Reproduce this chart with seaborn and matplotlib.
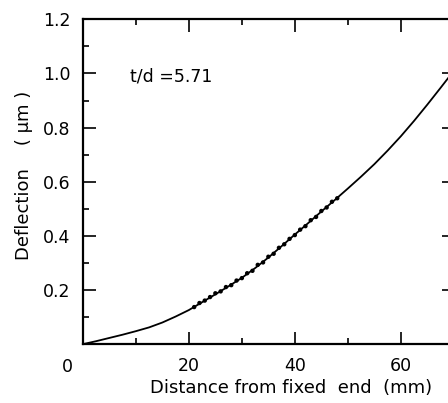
import numpy as np
import pandas as pd
import matplotlib.pyplot as plt
import seaborn as sns
from matplotlib.ticker import MultipleLocator

# fitted curve
curve_x = [0, 2.5, 5, 7.5, 10, 12.5, 15, 17.5, 20, 22.5, 25, 27.5, 30, 32.5,
           35, 37.5, 40, 42.5, 45, 47.5, 50, 52.5, 55, 57.5, 60, 62.5, 65, 67.5, 70]
curve_y = [0, 0.011, 0.023, 0.035, 0.048, 0.062, 0.080, 0.102, 0.126, 0.155,
           0.184, 0.214, 0.245, 0.281, 0.320, 0.362, 0.405, 0.447, 0.490, 0.532,
           0.575, 0.619, 0.665, 0.715, 0.768, 0.825, 0.885, 0.947, 1.010]

# measured points
meas_x = [21, 22, 23, 24, 25, 26, 27, 28, 29, 30, 31, 32, 33, 34,
          35, 36, 37, 38, 39, 40, 41, 42, 43, 44, 45, 46, 47, 48]
meas_y = [0.137, 0.152, 0.161, 0.174, 0.188, 0.195, 0.211, 0.218, 0.235, 0.244,
          0.262, 0.271, 0.293, 0.302, 0.323, 0.334, 0.356, 0.369, 0.389, 0.403,
          0.423, 0.436, 0.458, 0.470, 0.492, 0.505, 0.526, 0.539]

x_ticks = [20, 40, 60]
y_ticks = [0.2, 0.4, 0.6, 0.8, 1.0, 1.2]

sns.set_style("ticks")
plt.rcParams['font.family'] = ['DejaVu Sans']
plt.rcParams['text.color'] = 'black'
plt.rcParams['axes.labelcolor'] = 'black'

curve = pd.DataFrame({'x': curve_x, 'y': curve_y})
meas = pd.DataFrame({'x': meas_x, 'y': meas_y})

fig = plt.figure(figsize=(4.48, 4.03), dpi=100)
ax = fig.add_axes([0.185, 0.146, 0.828, 0.806])

sns.lineplot(data=curve, x='x', y='y', ax=ax, color='black', lw=1.3)
sns.scatterplot(data=meas, x='x', y='y', ax=ax, color='black', s=10,
                edgecolor='none', zorder=3)

ax.set_xlim(0, 70)
ax.set_ylim(0, 1.2)
ax.set_xticks(x_ticks)
ax.set_xticklabels([str(v) for v in x_ticks])
ax.set_yticks(y_ticks)
ax.set_yticklabels([f'{v:.1f}' for v in y_ticks])
ax.xaxis.set_minor_locator(MultipleLocator(10))
ax.yaxis.set_minor_locator(MultipleLocator(0.1))

ax.tick_params(which='both', direction='in', top=True, right=True,
               width=1.2, labelsize=12.5, colors='black')
ax.tick_params(which='major', length=9, pad=9)
ax.tick_params(which='minor', length=4)
for s in ax.spines.values():
    s.set_linewidth(1.6)
    s.set_color('black')

ax.text(-0.043, -0.07, '0', transform=ax.transAxes, fontsize=12.5,
        ha='center', va='center')
ax.text(8.9, 0.99, 't/d =5.71', fontsize=12.5, va='center')

ax.set_xlabel('Distance from fixed  end  (mm)', fontsize=13)
ax.xaxis.set_label_coords(0.56, -0.108)
ax.set_ylabel('Deflection    ( μm )', fontsize=13)
ax.yaxis.set_label_coords(-0.135, 0.52)

fig.savefig('out.png', dpi=100)
